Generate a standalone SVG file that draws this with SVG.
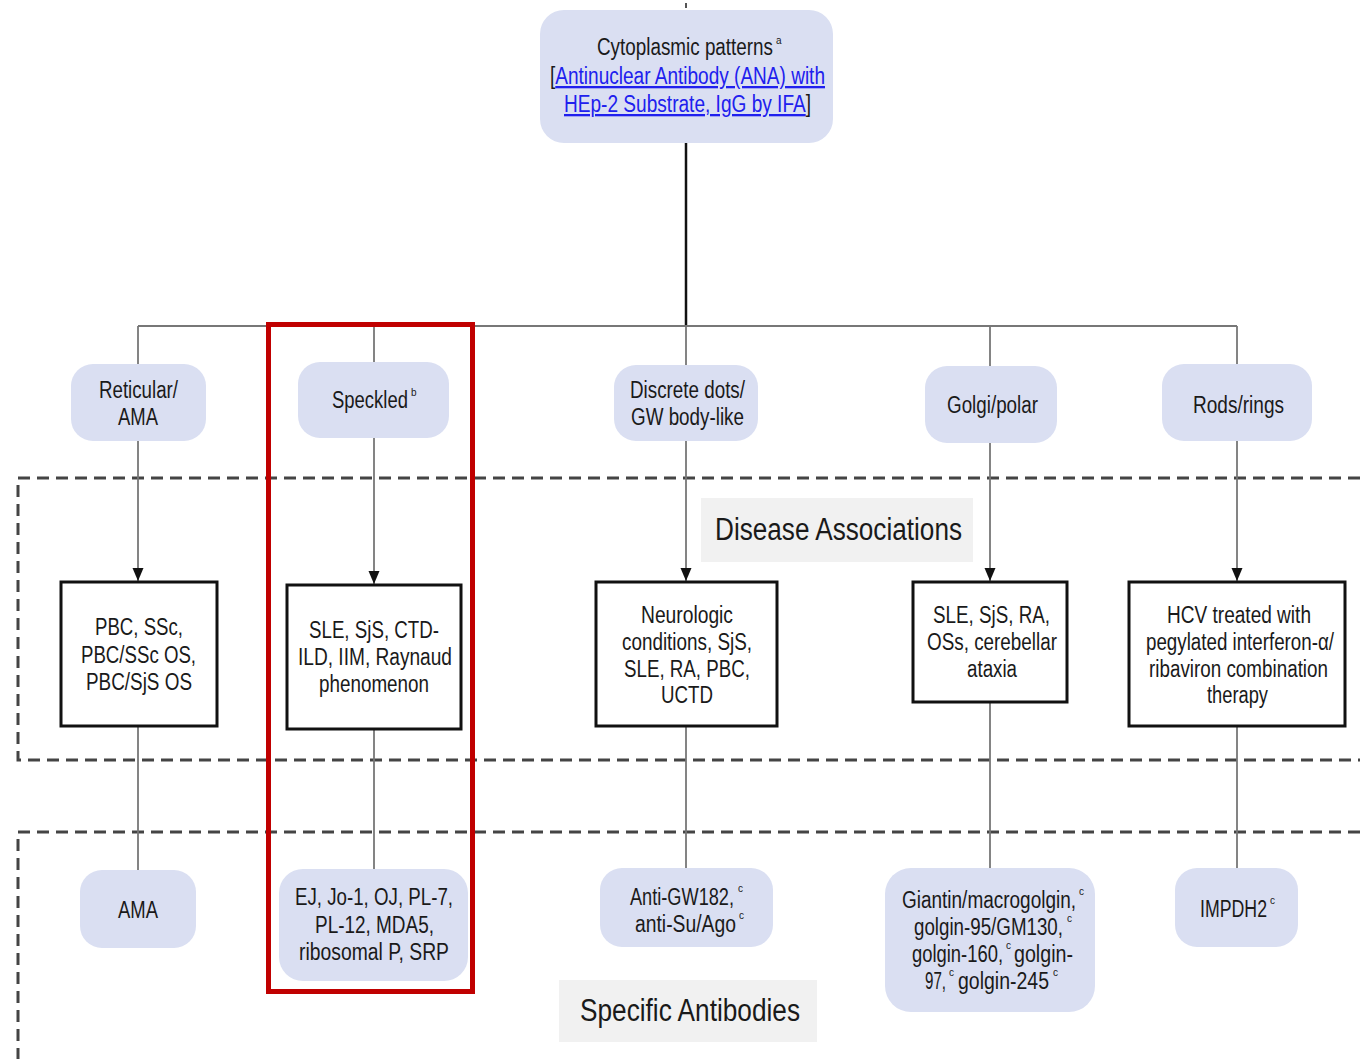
<svg xmlns="http://www.w3.org/2000/svg" width="1360" height="1059" viewBox="0 0 1360 1059">
<style>
text{font-family:"Liberation Sans",Arial,sans-serif;font-size:23px;fill:#1a1a1a}
.sup{font-size:10px}
.lbl{font-size:31px}
.link{fill:#2020ee;text-decoration:underline}
.pill{fill:#dadff2}
.box{fill:#fff;stroke:#111;stroke-width:3}
.conn{stroke:#777;stroke-width:1.8;fill:none}
.dash{stroke:#444;stroke-width:3;stroke-dasharray:12 7;fill:none}
.lblbg{fill:#f1f1f1}
</style>
<defs>
<marker id="arr" markerUnits="userSpaceOnUse" markerWidth="14" markerHeight="14" viewBox="0 0 14 14" refX="13" refY="7" orient="auto">
<path d="M0,1.5 L13,7 L0,12.5 Z" fill="#111"/>
</marker>
</defs>
<rect width="1360" height="1059" fill="#fff"/>

<g id="regions">
<path class="dash" d="M1360,478 H18 V760 H1360"/>
<path class="dash" d="M1360,832 H18 V1059"/>
<rect class="lblbg" x="701" y="498" width="272" height="64"/>
<text class="lbl" x="715" y="540" textLength="247" lengthAdjust="spacingAndGlyphs">Disease Associations</text>
<rect class="lblbg" x="559" y="980" width="258" height="62"/>
<text class="lbl" x="580" y="1021" textLength="220" lengthAdjust="spacingAndGlyphs">Specific Antibodies</text>
</g>

<g id="connectors">
<line x1="686" y1="3" x2="686" y2="8" stroke="#555" stroke-width="2"/>
<line x1="686" y1="143" x2="686" y2="326" stroke="#111" stroke-width="2.5"/>
<line class="conn" x1="138" y1="326" x2="1237" y2="326"/>
<line class="conn" x1="138" y1="326" x2="138" y2="364"/>
<line class="conn" x1="374" y1="326" x2="374" y2="362"/>
<line class="conn" x1="686" y1="326" x2="686" y2="365"/>
<line class="conn" x1="990" y1="326" x2="990" y2="366"/>
<line class="conn" x1="1237" y1="326" x2="1237" y2="364"/>
<line class="conn" x1="138" y1="441" x2="138" y2="581" marker-end="url(#arr)"/>
<line class="conn" x1="374" y1="438" x2="374" y2="584" marker-end="url(#arr)"/>
<line class="conn" x1="686" y1="441" x2="686" y2="581" marker-end="url(#arr)"/>
<line class="conn" x1="990" y1="443" x2="990" y2="581" marker-end="url(#arr)"/>
<line class="conn" x1="1237" y1="441" x2="1237" y2="581" marker-end="url(#arr)"/>
<line class="conn" x1="138" y1="726" x2="138" y2="871"/>
<line class="conn" x1="374" y1="729" x2="374" y2="869"/>
<line class="conn" x1="686" y1="726" x2="686" y2="868"/>
<line class="conn" x1="990" y1="702" x2="990" y2="868"/>
<line class="conn" x1="1237" y1="726" x2="1237" y2="868"/>
</g>

<g id="n-root">
<rect class="pill" x="540" y="10" width="293" height="133" rx="24"/>
<text x="597" y="55" textLength="176" lengthAdjust="spacingAndGlyphs">Cytoplasmic patterns</text>
<text class="sup" x="776" y="44">a</text>
<text x="550" y="84" textLength="275" lengthAdjust="spacingAndGlyphs">[<tspan class="link">Antinuclear Antibody (ANA) with</tspan></text>
<text x="564" y="112" textLength="247" lengthAdjust="spacingAndGlyphs"><tspan class="link">HEp-2 Substrate, IgG by IFA</tspan>]</text>
</g>

<g id="n-reticular">
<rect class="pill" x="71" y="364" width="135" height="77" rx="22"/>
<text x="99" y="398" textLength="79" lengthAdjust="spacingAndGlyphs">Reticular/</text>
<text x="118" y="425" textLength="40" lengthAdjust="spacingAndGlyphs">AMA</text>
</g>
<g id="n-speckled">
<rect class="pill" x="298" y="362" width="151" height="76" rx="22"/>
<text x="332" y="408" textLength="76" lengthAdjust="spacingAndGlyphs">Speckled</text>
<text class="sup" x="411" y="396">b</text>
</g>
<g id="n-dots">
<rect class="pill" x="614" y="365" width="144" height="76" rx="22"/>
<text x="630" y="398" textLength="115" lengthAdjust="spacingAndGlyphs">Discrete dots/</text>
<text x="631" y="425" textLength="113" lengthAdjust="spacingAndGlyphs">GW body-like</text>
</g>
<g id="n-golgi">
<rect class="pill" x="925" y="366" width="132" height="77" rx="22"/>
<text x="947" y="413" textLength="91" lengthAdjust="spacingAndGlyphs">Golgi/polar</text>
</g>
<g id="n-rods">
<rect class="pill" x="1162" y="364" width="150" height="77" rx="22"/>
<text x="1193" y="413" textLength="91" lengthAdjust="spacingAndGlyphs">Rods/rings</text>
</g>

<g id="d-pbc">
<rect class="box" x="61" y="582" width="156" height="144"/>
<text x="95" y="635" textLength="88" lengthAdjust="spacingAndGlyphs">PBC, SSc,</text>
<text x="81" y="663" textLength="115" lengthAdjust="spacingAndGlyphs">PBC/SSc OS,</text>
<text x="86" y="690" textLength="106" lengthAdjust="spacingAndGlyphs">PBC/SjS OS</text>
</g>
<g id="d-sle">
<rect class="box" x="287" y="585" width="174" height="144"/>
<text x="309" y="638" textLength="130" lengthAdjust="spacingAndGlyphs">SLE, SjS, CTD-</text>
<text x="298" y="665" textLength="154" lengthAdjust="spacingAndGlyphs">ILD, IIM, Raynaud</text>
<text x="319" y="692" textLength="110" lengthAdjust="spacingAndGlyphs">phenomenon</text>
</g>
<g id="d-neuro">
<rect class="box" x="596" y="582" width="181" height="144"/>
<text x="641" y="623" textLength="92" lengthAdjust="spacingAndGlyphs">Neurologic</text>
<text x="622" y="650" textLength="130" lengthAdjust="spacingAndGlyphs">conditions, SjS,</text>
<text x="624" y="677" textLength="126" lengthAdjust="spacingAndGlyphs">SLE, RA, PBC,</text>
<text x="661" y="703" textLength="52" lengthAdjust="spacingAndGlyphs">UCTD</text>
</g>
<g id="d-golgi">
<rect class="box" x="913" y="582" width="154" height="120"/>
<text x="933" y="623" textLength="117" lengthAdjust="spacingAndGlyphs">SLE, SjS, RA,</text>
<text x="927" y="650" textLength="130" lengthAdjust="spacingAndGlyphs">OSs, cerebellar</text>
<text x="967" y="677" textLength="50" lengthAdjust="spacingAndGlyphs">ataxia</text>
</g>
<g id="d-hcv">
<rect class="box" x="1129" y="582" width="216" height="144"/>
<text x="1167" y="623" textLength="144" lengthAdjust="spacingAndGlyphs">HCV treated with</text>
<text x="1146" y="650" textLength="188" lengthAdjust="spacingAndGlyphs">pegylated interferon-α/</text>
<text x="1149" y="677" textLength="179" lengthAdjust="spacingAndGlyphs">ribaviron combination</text>
<text x="1207" y="703" textLength="61" lengthAdjust="spacingAndGlyphs">therapy</text>
</g>

<g id="a-ama">
<rect class="pill" x="80" y="870" width="116" height="78" rx="22"/>
<text x="118" y="918" textLength="40" lengthAdjust="spacingAndGlyphs">AMA</text>
</g>
<g id="a-ej">
<rect class="pill" x="279" y="869" width="189" height="112" rx="24"/>
<text x="295" y="905" textLength="158" lengthAdjust="spacingAndGlyphs">EJ, Jo-1, OJ, PL-7,</text>
<text x="315" y="933" textLength="119" lengthAdjust="spacingAndGlyphs">PL-12, MDA5,</text>
<text x="299" y="960" textLength="150" lengthAdjust="spacingAndGlyphs">ribosomal P, SRP</text>
</g>
<g id="a-gw">
<rect class="pill" x="600" y="868" width="173" height="79" rx="22"/>
<text x="630" y="905" textLength="104" lengthAdjust="spacingAndGlyphs">Anti-GW182,</text>
<text class="sup" x="738" y="892">c</text>
<text x="635" y="932" textLength="101" lengthAdjust="spacingAndGlyphs">anti-Su/Ago</text>
<text class="sup" x="739" y="919">c</text>
</g>
<g id="a-giantin">
<rect class="pill" x="885" y="868" width="210" height="144" rx="26"/>
<text x="902" y="908" textLength="174" lengthAdjust="spacingAndGlyphs">Giantin/macrogolgin,</text>
<text class="sup" x="1079" y="895">c</text>
<text x="914" y="935" textLength="149" lengthAdjust="spacingAndGlyphs">golgin-95/GM130,</text>
<text class="sup" x="1067" y="922">c</text>
<text x="912" y="962" textLength="91" lengthAdjust="spacingAndGlyphs">golgin-160,</text>
<text class="sup" x="1006" y="949">c</text>
<text x="1014" y="962" textLength="59" lengthAdjust="spacingAndGlyphs">golgin-</text>
<text x="925" y="989" textLength="21" lengthAdjust="spacingAndGlyphs">97,</text>
<text class="sup" x="949" y="976">c</text>
<text x="958" y="989" textLength="91" lengthAdjust="spacingAndGlyphs">golgin-245</text>
<text class="sup" x="1053" y="976">c</text>
</g>
<g id="a-impdh2">
<rect class="pill" x="1175" y="868" width="123" height="79" rx="22"/>
<text x="1200" y="917" textLength="67" lengthAdjust="spacingAndGlyphs">IMPDH2</text>
<text class="sup" x="1270" y="904">c</text>
</g>

<g id="highlight">
<rect x="268.5" y="324.5" width="204" height="667" fill="none" stroke="#c00000" stroke-width="5"/>
</g>
</svg>
